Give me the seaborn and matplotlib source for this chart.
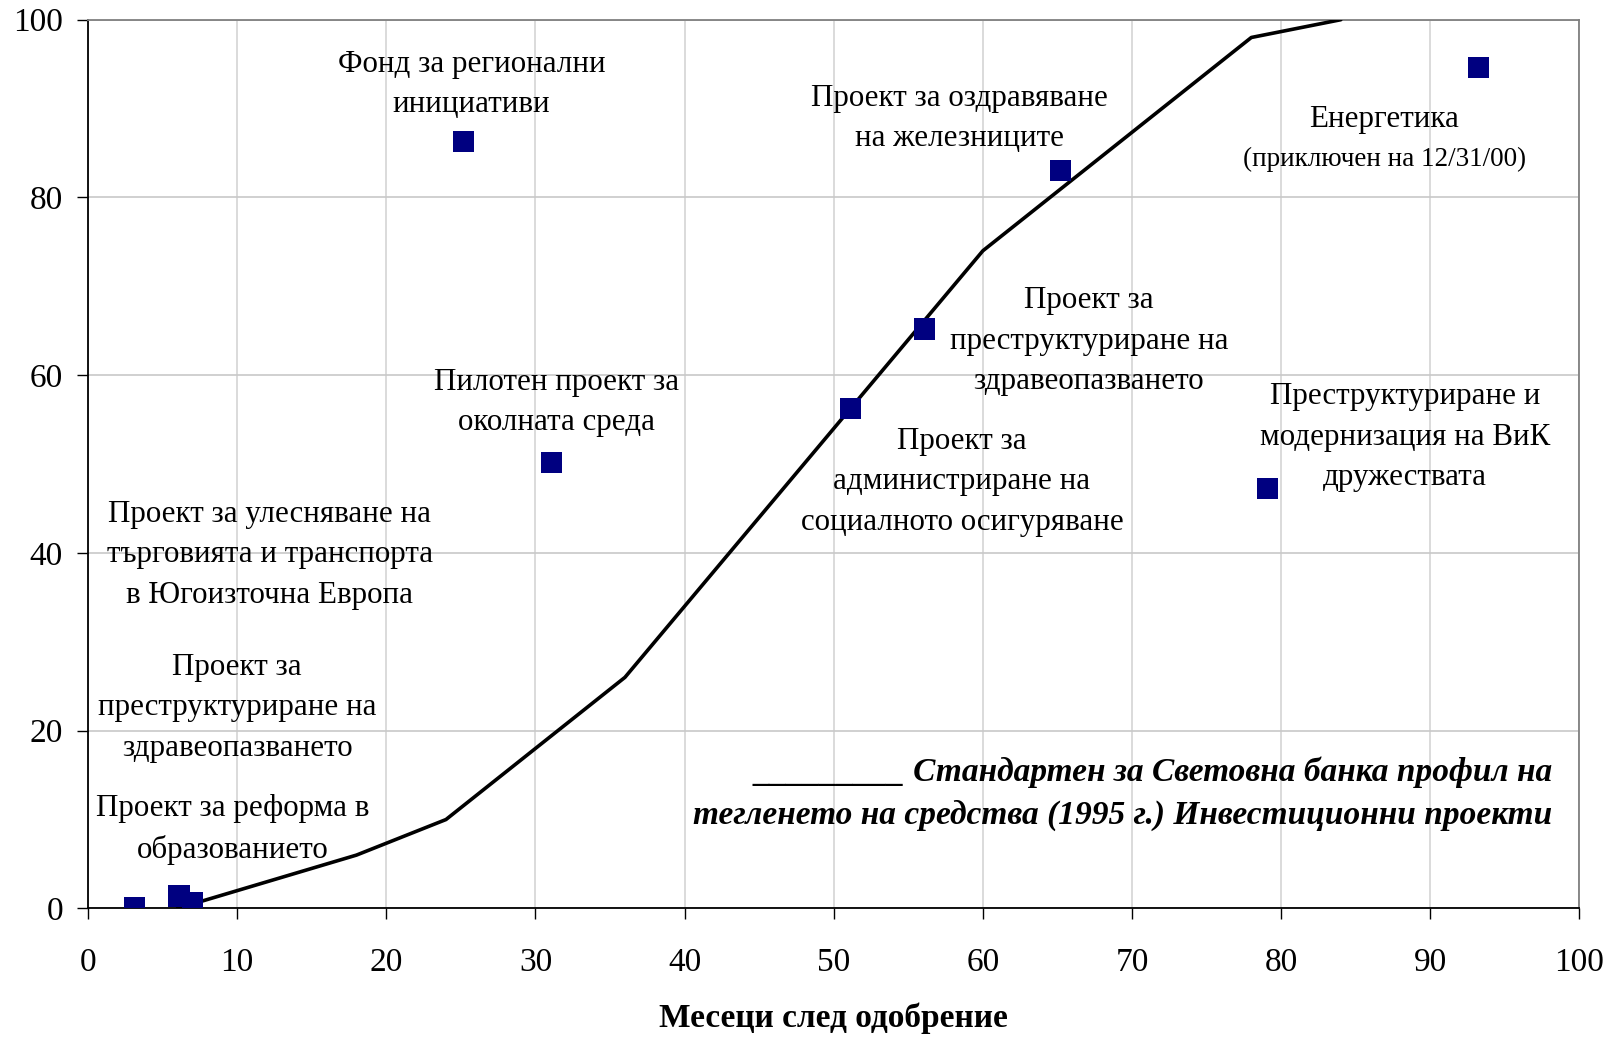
import matplotlib
matplotlib.use("Agg")
import matplotlib.pyplot as plt
import numpy as np
import pandas as pd
import seaborn as sns

# standard World Bank disbursement profile (1995), months after approval -> % disbursed
profile_months = [6, 12, 18, 24, 30, 36, 42, 48, 54, 60, 66, 72, 78, 84]
profile_pct = [0, 3, 6, 10, 18, 26, 38, 50, 62, 74, 82, 90, 98, 100]

# individual projects
project_months = [3.1, 6.1, 7.0, 25.2, 31.1, 51.1, 56.1, 65.2, 79.1, 93.2]
project_pct = [0.1, 1.4, 0.7, 86.3, 50.2, 56.2, 65.2, 83.0, 47.2, 94.6]

# labels: text, x, y
label_texts = [
    "Фонд за регионални\nинициативи",
    "Пилотен проект за\nоколната среда",
    "Проект за оздравяване\nна железниците",
    "Енергетика",
    "Проект за\nпреструктуриране на\nздравеопазването",
    "Проект за\nадминистриране на\nсоциалното осигуряване",
    "Преструктуриране и\nмодернизация на ВиК\nдружествата",
    "Проект за улесняване на\nтърговията и транспорта\nв Югоизточна Европа",
    "Проект за\nпреструктуриране на\nздравеопазването",
    "Проект за реформа в\nобразованието",
]
label_x = [25.7, 31.4, 58.4, 86.9, 67.1, 58.6, 88.3, 12.2, 10.0, 9.7]
label_y = [92.7, 56.9, 88.9, 88.8, 63.8, 48.0, 53.0, 39.8, 22.6, 8.9]

x_ticks = list(range(0, 101, 10))
y_ticks = list(range(0, 101, 20))

sns.set_style("white")
plt.rcParams['font.family'] = ['Liberation Serif', 'DejaVu Serif']
plt.rcParams['text.color'] = 'black'
plt.rcParams['axes.labelcolor'] = 'black'
plt.rcParams['xtick.color'] = 'black'
plt.rcParams['ytick.color'] = 'black'

fig = plt.figure(figsize=(16.15, 10.37), dpi=100)
ax = fig.add_axes([0.0545, 0.124, 0.9235, 0.857])

for gx in x_ticks:
    ax.axvline(gx, color='#d4d4d4', lw=1.2, zorder=0)
for gy in y_ticks:
    ax.axhline(gy, color='#c8c8c8', lw=1.2, zorder=0)

df_line = pd.DataFrame({'X': profile_months, 'Y': profile_pct})
sns.lineplot(x='X', y='Y', data=df_line, color='black', lw=2.6, ax=ax, zorder=3)

df_pts = pd.DataFrame({'X': project_months, 'Y': project_pct})
sns.scatterplot(x='X', y='Y', data=df_pts, marker='s', s=230, color='#000080',
                edgecolor='none', ax=ax, zorder=4)

for t, x, y in zip(label_texts, label_x, label_y):
    ax.text(x, y, t, ha='center', va='center', multialignment='center',
            fontsize=22.3, linespacing=1.52, zorder=5)
ax.text(86.9, 84.3, "(приключен на 12/31/00)", ha='center', va='center', fontsize=19.5, zorder=5)

ax.text(98.2, 12.9, "_________ Стандартен за Световна банка профил на\n"
        "тегленето на средства (1995 г.) Инвестиционни проекти",
        ha='right', va='center', multialignment='right', fontsize=24,
        fontweight='bold', fontstyle='italic', linespacing=1.5, zorder=5)

ax.set_xlim(0, 100)
ax.set_ylim(0, 100)
ax.set_xticks(x_ticks)
ax.set_yticks(y_ticks)
ax.tick_params(axis='x', direction='out', length=8, width=1, pad=20, labelsize=24, bottom=True)
ax.tick_params(axis='y', direction='out', length=8, width=1, pad=10, labelsize=24, left=True)
ax.set_xlabel("Месеци след одобрение", fontsize=24, fontweight='bold', labelpad=18)
ax.set_ylabel("")

for side in ['left', 'bottom']:
    ax.spines[side].set_color('black')
    ax.spines[side].set_linewidth(1.3)
for side in ['top', 'right']:
    ax.spines[side].set_color('#808080')
    ax.spines[side].set_linewidth(1.3)

fig.savefig("out.png", dpi=100)
